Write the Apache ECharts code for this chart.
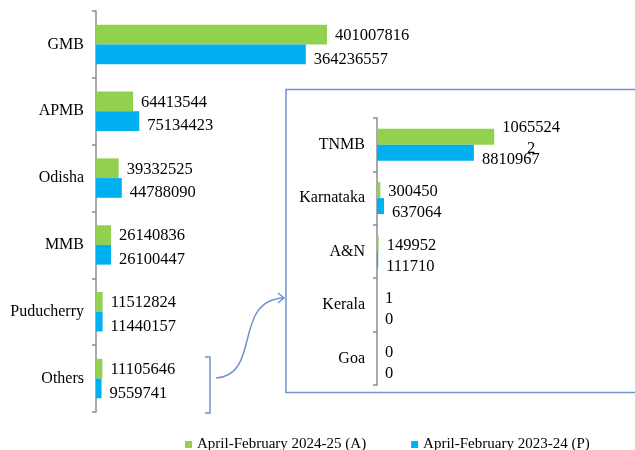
<!DOCTYPE html>
<html>
<head>
<meta charset="utf-8">
<script src="https://cdn.jsdelivr.net/npm/echarts@6/dist/echarts.min.js"></script>
<style>
  html, body { margin: 0; padding: 0; background: #fff; }
  #chart { width: 635px; height: 450px; }
</style>
</head>
<body>
<div id="chart"></div>
<script>
// Main chart: ports / boards
const mainCategories = ['GMB', 'APMB', 'Odisha', 'MMB', 'Puducherry', 'Others'];
const mainCurrent = [401007816, 64413544, 39332525, 26140836, 11512824, 11105646];
const mainPrevious = [364236557, 75134423, 44788090, 26100447, 11440157, 9559741];

// Inset: breakdown of "Others"
const insetCategories = ['TNMB', 'Karnataka', 'A&N', 'Kerala', 'Goa'];
const insetCurrent = [10655242, 300450, 149952, 1, 0];
const insetPrevious = [8810967, 637064, 111710, 0, 0];

const seriesNames = ['April-February 2024-25 (A)', 'April-February 2023-24 (P)'];
const GREEN = '#92D050';
const BLUE = '#00B0F0';
const FONT = 'Liberation Serif';
const BOX = '#6f93cc';

const chart = echarts.init(document.getElementById('chart'));

const axisStyle = {
    type: 'category',
    inverse: true,
    axisLine: { show: true, lineStyle: { color: '#8c8c8c', width: 1.5 } },
    axisTick: { show: true, length: 4, lineStyle: { color: '#8c8c8c', width: 1.5 } },
    axisLabel: { color: '#000', fontFamily: FONT, fontSize: 16, margin: 12 }
};

function barLabel(dy) {
    return {
        show: true,
        position: 'right',
        distance: 8,
        offset: [0, dy],
        color: '#000',
        fontFamily: FONT,
        fontSize: 16.5
    };
}

// the long TNMB label wraps in the original, last digit drops to a second line
const insetCurrentData = insetCurrent.map((v, i) => {
    if (i !== 0) return v;
    return {
        value: v,
        label: {
            formatter: p => {
                const s = String(p.value);
                return s.slice(0, 7) + '\n' + s.slice(7);
            },
            align: 'center',
            offset: [29, 1],
            lineHeight: 21
        }
    };
});

const option = {
    animation: false,
    backgroundColor: '#fff',
    color: [GREEN, BLUE],
    legend: {
        data: seriesNames,
        left: 180,
        top: 432,
        icon: 'rect',
        itemWidth: 7,
        itemHeight: 7,
        itemGap: 45,
        textStyle: { color: '#000', fontFamily: FONT, fontSize: 15 }
    },
    grid: [
        { left: 96, top: 11, width: 288, height: 401 },
        { left: 377, top: 118, width: 132, height: 267 }
    ],
    xAxis: [
        { type: 'value', gridIndex: 0, min: 0, max: 500000000, show: false },
        { type: 'value', gridIndex: 1, min: 0, max: 12000000, show: false }
    ],
    yAxis: [
        Object.assign({ gridIndex: 0, data: mainCategories }, axisStyle),
        Object.assign({ gridIndex: 1, data: insetCategories }, axisStyle)
    ],
    series: [
        {
            name: seriesNames[0], type: 'bar', xAxisIndex: 0, yAxisIndex: 0,
            data: mainCurrent, barGap: '0%', barCategoryGap: '41%',
            label: barLabel(1)
        },
        {
            name: seriesNames[1], type: 'bar', xAxisIndex: 0, yAxisIndex: 0,
            data: mainPrevious, barGap: '0%', barCategoryGap: '41%',
            label: barLabel(5)
        },
        {
            name: seriesNames[0], type: 'bar', xAxisIndex: 1, yAxisIndex: 1,
            data: insetCurrentData, barGap: '0%', barCategoryGap: '40%',
            label: barLabel(2)
        },
        {
            name: seriesNames[1], type: 'bar', xAxisIndex: 1, yAxisIndex: 1,
            data: insetPrevious, barGap: '0%', barCategoryGap: '40%',
            label: barLabel(7)
        }
    ],
    graphic: [
        // inset frame (runs off the right edge like the original)
        {
            type: 'rect', z: 0,
            shape: { x: 286, y: 89.5, width: 500, height: 303 },
            style: { fill: 'none', stroke: BOX, lineWidth: 1.5 }
        },
        // bracket next to "Others"
        {
            type: 'polyline',
            shape: { points: [[205, 357], [210, 357], [210, 413], [205, 413]] },
            style: { fill: 'none', stroke: BOX, lineWidth: 1.5 }
        },
        // curved arrow into the inset
        {
            type: 'bezierCurve',
            shape: { x1: 216, y1: 378, cpx1: 262, cpy1: 375, cpx2: 232, cpy2: 300, x2: 284, y2: 298 },
            style: { fill: 'none', stroke: BOX, lineWidth: 1.5 }
        },
        {
            type: 'polyline',
            shape: { points: [[278, 293], [284, 298], [278, 303]] },
            style: { fill: 'none', stroke: BOX, lineWidth: 1.5 }
        }
    ]
};

chart.setOption(option);
</script>
</body>
</html>
